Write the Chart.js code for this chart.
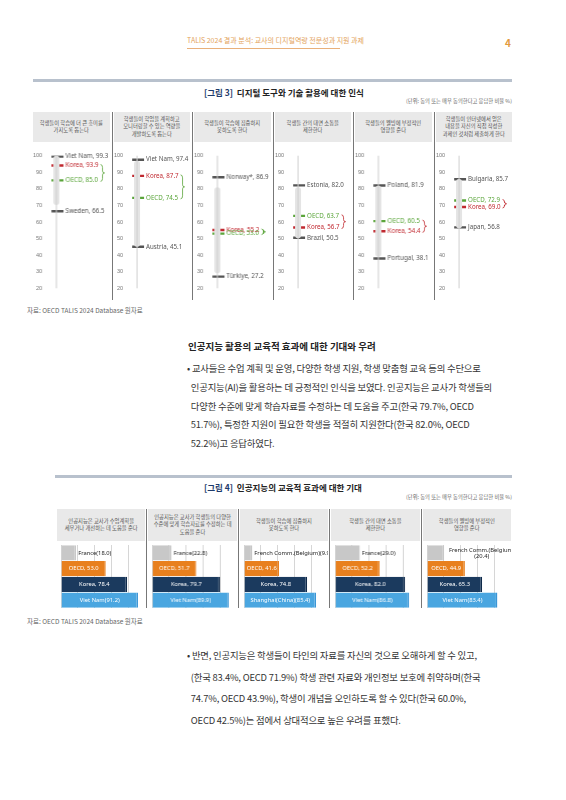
<!DOCTYPE html>
<html><head><meta charset="utf-8">
<script src="https://cdn.jsdelivr.net/npm/chart.js@4"></script>
<style>
body{margin:0;width:566px;height:800px;background:#fff;font-family:"Noto Sans CJK KR","Noto Sans",sans-serif;position:relative;overflow:hidden}
.a{position:absolute;white-space:nowrap}
.hdr{position:absolute;background:#e9e9e9;color:#555;font-size:5.3px;line-height:7.5px;text-align:center;display:flex;align-items:center;justify-content:center}
.sep{position:absolute;width:1px;background:#777}
.p{position:absolute;left:187px;width:328px;font-size:9.4px;color:#333;letter-spacing:-0.2px;white-space:nowrap}
</style></head><body>
<div class="a" style="left:187px;top:35px;font-size:7px;color:#e3a35c">TALIS 2024 결과 분석: 교사의 디지털역량 전문성과 지원 과제</div>
<div class="a" style="left:187px;top:48px;width:153px;height:1px;background:#e9b07a"></div>
<div class="a" style="left:505px;top:35px;font-size:10px;font-weight:bold;color:#e39a3e">4</div>

<div class="a" style="left:33px;top:79px;width:479px;height:3px;background:#b8c1cd"></div>
<div class="a" style="left:204px;top:86px;font-size:8.5px;font-weight:bold;color:#222"><span style="color:#1d3a6b">[그림 3]</span>&nbsp; 디지털 도구와 기술 활용에 대한 인식</div>
<div class="a" style="right:54px;top:97px;font-size:5.3px;color:#666">(단위: 동의 또는 매우 동의한다고 응답한 비율 %)</div>
<div class="a" style="left:27px;top:305px;font-size:6.5px;color:#666">자료: OECD TALIS 2024 Database 원자료</div>

<div class="a" style="left:188px;top:339px;font-size:9.5px;font-weight:bold;color:#222">인공지능 활용의 교육적 효과에 대한 기대와 우려</div>
<div class="p" style="top:359px;line-height:18.8px">• 교사들은 수업 계획 및 운영, 다양한 학생 지원, 학생 맞춤형 교육 등의 수단으로<br>&nbsp;&nbsp;인공지능(AI)을 활용하는 데 긍정적인 인식을 보였다. 인공지능은 교사가 학생들의<br>&nbsp;&nbsp;다양한 수준에 맞게 학습자료를 수정하는 데 도움을 주고(한국 79.7%, OECD<br>&nbsp;&nbsp;51.7%), 특정한 지원이 필요한 학생을 적절히 지원한다(한국 82.0%, OECD<br>&nbsp;&nbsp;52.2%)고 응답하였다.</div>

<div class="a" style="left:55px;top:475px;width:457px;height:3px;background:#b8c1cd"></div>
<div class="a" style="left:204px;top:481px;font-size:8.5px;font-weight:bold;color:#222"><span style="color:#1d3a6b">[그림 4]</span>&nbsp; 인공지능의 교육적 효과에 대한 기대</div>
<div class="a" style="right:54px;top:493px;font-size:5.3px;color:#666">(단위: 동의 또는 매우 동의한다고 응답한 비율 %)</div>
<div class="a" style="left:27px;top:616px;font-size:6.5px;color:#666">자료: OECD TALIS 2024 Database 원자료</div>

<div class="p" style="top:645px;line-height:21.5px">• 반면, 인공지능은 학생들이 타인의 자료를 자신의 것으로 오해하게 할 수 있고,<br>&nbsp;&nbsp;(한국 83.4%, OECD 71.9%) 학생 관련 자료와 개인정보 보호에 취약하며(한국<br>&nbsp;&nbsp;74.7%, OECD 43.9%), 학생이 개념을 오인하도록 할 수 있다(한국 60.0%,<br>&nbsp;&nbsp;OECD 42.5%)는 점에서 상대적으로 높은 우려를 표했다.</div>

<script>
// ---- 그림 3 데이터
const f3Titles=['학생들이 학습에 더 큰 흥미를<br>가지도록 돕는다','학생들이 학업을 계획하고<br>모니터링할 수 있는 역량을<br>개발하도록 돕는다','학생들이 학습에 집중하지<br>못하도록 한다','학생들 간의 대면 소통을<br>제한한다','학생들의 웰빙에 부정적인<br>영향을 준다','학생들이 인터넷에서 얻은<br>내용을 자신의 직접 작성한<br>과제인 것처럼 제출하게 한다'];
const f3TopName=['Viet Nam','Viet Nam','Norway*','Estonia','Poland','Bulgaria'];
const f3Top=[99.3,97.4,86.9,82.0,81.9,85.7];
const f3Korea=[93.9,87.7,55.2,56.7,54.4,69.0];
const f3Oecd=[85.0,74.5,53.0,63.7,60.5,72.9];
const f3BotName=['Sweden','Austria','Türkiye','Brazil','Portugal','Japan'];
const f3Bot=[66.5,45.1,27.2,50.5,38.1,56.8];
const f3BandLo=[72,47,31,52,41,58];
const f3BandHi=[98,95,79,79,80,84];
const f3Ticks=[20,100];

// ---- 그림 4 데이터
const f4Titles=['인공지능은 교사가 수업계획을<br>세우거나 개선하는 데 도움을 준다','인공지능은 교사가 학생들의 다양한<br>수준에 맞게 학습자료를 수정하는 데<br>도움을 준다','학생들이 학습에 집중하지<br>못하도록 한다','학생들 간의 대면 소통을<br>제한한다','학생들의 웰빙에 부정적인<br>영향을 준다'];
const f4LowName=['France','France','French Comm.(Belgium)','France','French Comm.(Belgium)'];
const f4Low=[18.0,22.8,9.9,29.0,20.4];
const f4Oecd=[53.0,51.7,41.6,52.2,44.9];
const f4Korea=[78.4,79.7,74.8,82.0,65.3];
const f4TopName=['Viet Nam','Viet Nam','Shanghai(China)','Viet Nam','Viet Nam'];
const f4Top=[91.2,89.9,85.4,86.8,83.4];

const GREY='#555',RED='#c0282f',GREEN='#5aa53a';
const fmt=v=>v.toFixed(1);
function el(tag,css,html){const e=document.createElement('div');e.className=tag;e.style.cssText=css;if(html)e.innerHTML=html;document.body.appendChild(e);return e;}

// 그림 3
const L3=30,W3=80.5;
f3Titles.forEach((t,i)=>{
  const x=L3+i*W3;
  el('hdr',`left:${x+3}px;top:112px;width:${W3-4}px;height:30px`,t);
  if(i>0) el('sep',`left:${x+1}px;top:112px;height:188px`);
  const box=el('a',`left:${x+2}px;top:146px;width:${W3-3}px;height:152px`);
  const cv=document.createElement('canvas');box.appendChild(cv);
  const marks=[
    {v:f3Top[i],name:f3TopName[i],c:GREY},
    {v:f3Korea[i],name:'Korea',c:RED},
    {v:f3Oecd[i],name:'OECD',c:GREEN},
    {v:f3Bot[i],name:f3BotName[i],c:GREY}];
  const lower=f3Korea[i]<f3Oecd[i]?RED:GREEN;
  new Chart(cv,{type:'scatter',
    data:{datasets:[
      {data:[{x:1,y:f3Ticks[0]},{x:1,y:f3Ticks[1]}],showLine:true,borderColor:'#cfcfcf',borderWidth:1,pointRadius:0},
      {data:[{x:1,y:f3BandLo[i]},{x:1,y:f3BandHi[i]}],showLine:true,borderColor:'#e4e4e4',borderWidth:6,borderCapStyle:'round',pointRadius:0},
      {data:marks.map(m=>({x:1,y:m.v})),pointStyle:'line',radius:7,pointRadius:7,borderWidth:2.4,pointBorderWidth:2.4,
       borderColor:marks.map(m=>m.c),pointBorderColor:marks.map(m=>m.c),pointBackgroundColor:marks.map(m=>m.c)}]},
    options:{responsive:true,maintainAspectRatio:false,animation:false,events:[],
      layout:{padding:{top:4,bottom:2}},
      plugins:{legend:{display:false},tooltip:{enabled:false}},
      scales:{x:{type:'linear',display:false,min:0,max:10},
        y:{min:20,max:100,ticks:{stepSize:10,color:'#777',font:{size:5.5},padding:1},grid:{display:false},border:{display:false}}}},
    plugins:[{id:'lbl',afterDatasetsDraw(ch){
      const c=ch.ctx,xs=ch.scales.x,ys=ch.scales.y,px=xs.getPixelForValue(1)+9;
      c.save();c.font='6.2px "Liberation Sans Narrow","Noto Sans"';c.textBaseline='middle';
      let maxW=0;
      marks.forEach(m=>{c.fillStyle=m.c;const s=m.name+', '+fmt(m.v);c.fillText(s,px,ys.getPixelForValue(m.v));
        if(m.name==='Korea'||m.name==='OECD')maxW=Math.max(maxW,c.measureText(s).width);});
      const y1=ys.getPixelForValue(Math.max(f3Korea[i],f3Oecd[i])),y2=ys.getPixelForValue(Math.min(f3Korea[i],f3Oecd[i]));
      const bx=px+maxW+2,ym=(y1+y2)/2;
      c.strokeStyle=lower;c.lineWidth=0.8;c.beginPath();
      c.moveTo(bx,y1-1);c.quadraticCurveTo(bx+2,y1-1,bx+2,y1+2);c.lineTo(bx+2,ym-2);c.quadraticCurveTo(bx+2,ym,bx+4,ym);
      c.quadraticCurveTo(bx+2,ym,bx+2,ym+2);c.lineTo(bx+2,y2-2);c.quadraticCurveTo(bx+2,y2+1,bx,y2+1);c.stroke();
      c.restore();}}]
  });
});

// 그림 4
const L4=55,W4=91.4;
f4Titles.forEach((t,i)=>{
  const x=L4+i*W4;
  el('hdr',`left:${x+2}px;top:509px;width:${W4-3}px;height:32px`,t);
  if(i>0) el('sep',`left:${x}px;top:509px;height:99px`);
  const box=el('a',`left:${x+2}px;top:542px;width:${W4-3}px;height:66px`);
  const cv=document.createElement('canvas');box.appendChild(cv);
  const vals=[f4Low[i],f4Oecd[i],f4Korea[i],f4Top[i]];
  const labs=[f4LowName[i]+'('+fmt(f4Low[i])+')','OECD, '+fmt(f4Oecd[i]),'Korea, '+fmt(f4Korea[i]),f4TopName[i]+'('+fmt(f4Top[i])+')'];
  new Chart(cv,{type:'bar',
    data:{labels:['a','b','c','d'],datasets:[{data:vals,backgroundColor:['#c8c8c8','#e8801e','#1b3a5e','#4aa6e0'],
      borderColor:['#c8c8c8','#e8801e','#0f2a4a','#3b96d6'],borderWidth:{right:1.5,top:0,bottom:0,left:0},categoryPercentage:1,barPercentage:0.96}]},
    options:{indexAxis:'y',responsive:true,maintainAspectRatio:false,animation:false,events:[],
      layout:{padding:{left:4,right:0,top:3,bottom:0}},
      plugins:{legend:{display:false},tooltip:{enabled:false}},
      scales:{y:{display:false},x:{min:0,max:100,ticks:{display:false,stepSize:20},grid:{color:'#d6d6d6',drawTicks:false},border:{display:false}}}},
    plugins:[{id:'bl',afterDatasetsDraw(ch){
      const c=ch.ctx,meta=ch.getDatasetMeta(0);
      c.save();c.font='5.8px "Liberation Sans Narrow","Noto Sans"';c.textBaseline='middle';
      meta.data.forEach((b,k)=>{
        if(k===0){c.fillStyle='#222';c.textAlign='left';
          if(i===4){c.textAlign='center';const cx=(b.x+ch.chartArea.right)/2+4;c.fillText(f4LowName[i],cx,b.y-3);c.fillText('('+fmt(f4Low[i])+')',cx,b.y+3);}
          else c.fillText(labs[0],b.x+2,b.y);}
        else{c.fillStyle='#fff';c.textAlign='center';c.fillText(labs[k],(b.base+b.x)/2,b.y);}
      });c.restore();}}]
  });
});
</script>
</body></html>
